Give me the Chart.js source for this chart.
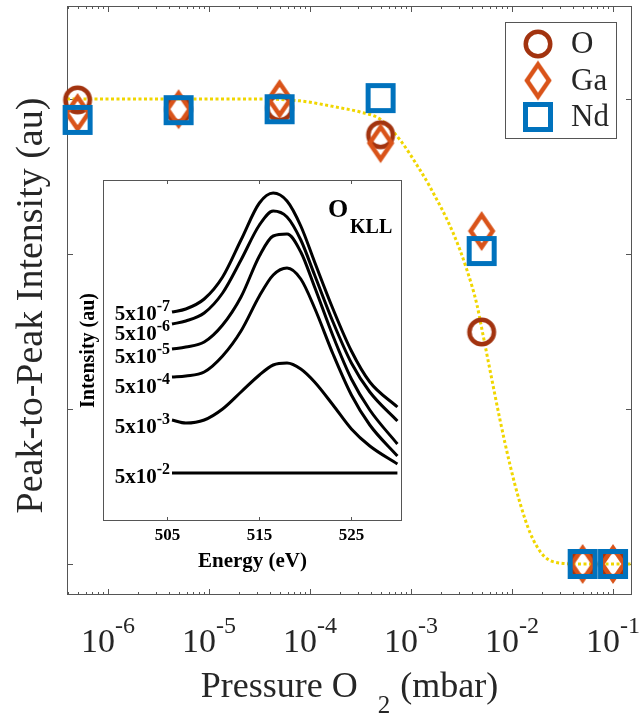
<!DOCTYPE html>
<html>
<head>
<meta charset="utf-8">
<script src="https://cdn.jsdelivr.net/npm/chart.js@4.4.0/dist/chart.umd.min.js"></script>
<style>
    body { margin: 0; background: #fff; }
    #wrap { position: relative; width: 641px; height: 717px; }
    #main { position: absolute; left: 0; top: 0; }
    #inset { position: absolute; left: 60px; top: 170px; }
</style>
</head>
<body>
<div id="wrap">
    <canvas id="main" width="641" height="717"></canvas>
    <canvas id="inset" width="350" height="420"></canvas>
</div>
<script>
// main plot: peak-to-peak intensity vs O2 pressure
const pressures = [5e-7, 5e-6, 5e-5, 5e-4, 5e-3, 5e-2, 1e-1];
const oValues = [0.998, 0.978, 0.981, 0.923, 0.499, 0, 0];
const gaValues = [0.970, 0.978, 1.000, 0.905, 0.716, 0, 0];
const ndValues = [0.955, 0.976, 0.978, 1.002, 0.673, 0, 0];

// dotted guide curve
const fitPressures = [3.93e-7, 2.61e-6, 2.55e-5, 7.96e-5, 1.98e-4, 3.13e-4, 4.93e-4, 7.78e-4, 1.23e-3, 1.54e-3,
    2.61e-3, 3.58e-3, 4.50e-3, 5.05e-3, 6.05e-3, 7.60e-3, 9.55e-3, 1.20e-2, 1.51e-2, 2.03e-2, 2.99e-2, 5.05e-2, 0.154];
const fitValues = [1.0, 1.0, 1.0, 0.996, 0.981, 0.972, 0.957, 0.912, 0.847, 0.811,
    0.712, 0.632, 0.557, 0.503, 0.417, 0.310, 0.213, 0.131, 0.067, 0.019, 0.002, 0, 0];

const xTickExps = [-6, -5, -4, -3, -2, -1];
const yTickValues = [0, 1 / 3, 2 / 3, 1];
const legendNames = ["O", "Ga", "Nd"];

// inset: O KLL spectra at several pressures
const energies = [505.5, 507, 509, 511, 513, 515, 516.5, 518, 519.5, 521, 523, 525, 527, 530];
const spec7 = [1.61, 1.64, 1.74, 1.96, 2.33, 2.70, 2.80, 2.72, 2.47, 2.11, 1.64, 1.22, 0.91, 0.66];
const spec6 = [1.49, 1.52, 1.60, 1.80, 2.13, 2.48, 2.62, 2.56, 2.33, 1.98, 1.51, 1.10, 0.81, 0.52];
const spec5 = [1.24, 1.26, 1.31, 1.48, 1.76, 2.17, 2.37, 2.39, 2.21, 1.86, 1.37, 0.94, 0.63, 0.29];
const spec4 = [0.96, 0.97, 1.01, 1.17, 1.42, 1.77, 1.98, 2.05, 1.94, 1.65, 1.19, 0.78, 0.48, 0.17];
const spec3 = [0.53, 0.50, 0.53, 0.64, 0.81, 0.98, 1.08, 1.10, 1.04, 0.91, 0.68, 0.44, 0.27, 0.09];
const spec2 = [0, 0, 0, 0, 0, 0, 0, 0, 0, 0, 0, 0, 0, 0];
const specLabelExps = ["-7", "-6", "-5", "-4", "-3", "-2"];
const energyTicks = [505, 515, 525];

const SERIF = "'Liberation Serif', 'Times New Roman', serif";
const colO = "#a2330f";
const colGa = "#d95319";
const colNd = "#0072bd";
const colFit = "#f0d600";
const axisCol = "#555555";
const textCol = "#262626";

// hollow marker images, matlab style
function makeMarker(kind, color) {
    const c = document.createElement("canvas");
    c.width = 34;
    c.height = kind === "diamond" ? 44 : 34;
    const g = c.getContext("2d");
    const cx = c.width / 2, cy = c.height / 2;
    g.strokeStyle = color;
    g.lineJoin = "miter";
    g.miterLimit = 10;
    g.beginPath();
    if (kind === "circle") {
        g.lineWidth = 4.5;
        g.arc(cx, cy, 12.25, 0, Math.PI * 2);
    } else if (kind === "square") {
        g.lineWidth = 5;
        g.rect(cx - 12.5, cy - 12.5, 25, 25);
    } else {
        g.lineWidth = 4.5;
        g.moveTo(cx, cy - 16);
        g.lineTo(cx + 11, cy);
        g.lineTo(cx, cy + 16);
        g.lineTo(cx - 11, cy);
        g.closePath();
    }
    g.stroke();
    return c;
}
const markO = makeMarker("circle", colO);
const markGa = makeMarker("diamond", colGa);
const markNd = makeMarker("square", colNd);

// base text with a raised small part
function drawPow(ctx, base, exp, x, baseline, bigPx, smallPx, rise, weight, align) {
    const big = weight + " " + bigPx + "px " + SERIF;
    const small = weight + " " + smallPx + "px " + SERIF;
    ctx.font = big;
    const w1 = ctx.measureText(base).width;
    ctx.font = small;
    const w2 = ctx.measureText(exp).width;
    let left = x;
    if (align === "center") left = x - (w1 + w2) / 2;
    if (align === "right") left = x - w1 - w2;
    ctx.textAlign = "left";
    ctx.textBaseline = "alphabetic";
    ctx.font = big;
    ctx.fillText(base, left, baseline);
    ctx.font = small;
    ctx.fillText(exp, left + w1, baseline - rise);
}

const mainAxes = {
    id: "mainAxes",
    beforeDatasetsDraw(chart) {
        const { ctx, chartArea: a, scales: { x, y } } = chart;
        ctx.save();
        ctx.strokeStyle = axisCol;
        ctx.lineWidth = 1;
        ctx.strokeRect(a.left + 0.5, a.top + 0.5, a.right - a.left - 1, a.bottom - a.top - 1);
        ctx.beginPath();
        // log ticks, major + minor, inward on top and bottom
        for (let e = xTickExps[0] - 1; e <= xTickExps[xTickExps.length - 1]; e++) {
            for (let m = 1; m < 10; m++) {
                const v = m * Math.pow(10, e);
                if (v < x.min || v > x.max) continue;
                const px = Math.round(x.getPixelForValue(v)) + 0.5;
                const len = m === 1 ? 6 : 3;
                ctx.moveTo(px, a.bottom); ctx.lineTo(px, a.bottom - len);
                ctx.moveTo(px, a.top); ctx.lineTo(px, a.top + len);
            }
        }
        yTickValues.forEach(v => {
            const py = Math.round(y.getPixelForValue(v)) + 0.5;
            ctx.moveTo(a.left, py); ctx.lineTo(a.left + 6, py);
            ctx.moveTo(a.right, py); ctx.lineTo(a.right - 6, py);
        });
        ctx.stroke();
        ctx.restore();
    },
    afterDraw(chart) {
        const { ctx, chartArea: a, scales: { x } } = chart;
        ctx.save();
        ctx.fillStyle = textCol;
        xTickExps.forEach(e => {
            const px = x.getPixelForValue(Math.pow(10, e));
            drawPow(ctx, "10", String(e), px, 652, 34, 24, 19, "normal", "center");
        });

        // x title with subscript 2
        ctx.font = "36px " + SERIF;
        const t1 = "Pressure O", t3 = "(mbar)";
        const w1 = ctx.measureText(t1).width, w3 = ctx.measureText(t3).width;
        ctx.font = "25px " + SERIF;
        const w2 = ctx.measureText("2").width;
        const total = w1 + 20 + w2 + 10 + w3;
        let left = (a.left + a.right) / 2 - total / 2;
        ctx.textAlign = "left";
        ctx.font = "36px " + SERIF;
        ctx.fillText(t1, left, 697);
        ctx.font = "25px " + SERIF;
        ctx.fillText("2", left + w1 + 20, 713);
        ctx.font = "36px " + SERIF;
        ctx.fillText(t3, left + w1 + 20 + w2 + 10, 697);

        // y title
        ctx.translate(42, (a.top + a.bottom) / 2 + 5);
        ctx.rotate(-Math.PI / 2);
        ctx.textAlign = "center";
        ctx.font = "38px " + SERIF;
        ctx.fillText("Peak-to-Peak Intensity (au)", 0, 0);
        ctx.restore();

        // legend box
        ctx.save();
        ctx.fillStyle = "#fff";
        ctx.fillRect(505, 22, 112, 117);
        ctx.strokeStyle = axisCol;
        ctx.lineWidth = 1;
        ctx.strokeRect(505.5, 22.5, 111, 116);
        const marks = [markO, markGa, markNd];
        const rows = [44, 80.5, 117];
        ctx.fillStyle = textCol;
        ctx.font = "31px " + SERIF;
        ctx.textAlign = "left";
        ctx.textBaseline = "middle";
        legendNames.forEach((name, i) => {
            const m = marks[i];
            ctx.drawImage(m, 538 - m.width / 2, rows[i] - m.height / 2);
            ctx.fillText(name, 571, rows[i] + 1);
        });
        ctx.restore();
    }
};

function pts(xs, ys) {
    return xs.map((v, i) => ({ x: v, y: ys[i] }));
}

new Chart(document.getElementById("main"), {
    type: "scatter",
    data: {
        datasets: [
            {
                label: "fit",
                data: pts(fitPressures, fitValues),
                showLine: true,
                borderColor: colFit,
                borderWidth: 3,
                borderDash: [3, 2.5],
                pointRadius: 0,
                cubicInterpolationMode: "monotone",
                order: 4,
            },
            { label: "O", data: pts(pressures, oValues), pointStyle: markO, pointRadius: 10, clip: false, order: 3 },
            { label: "Ga", data: pts(pressures, gaValues), pointStyle: markGa, pointRadius: 10, clip: false, order: 2 },
            { label: "Nd", data: pts(pressures, ndValues), pointStyle: markNd, pointRadius: 10, clip: false, order: 1 },
        ],
    },
    options: {
        responsive: false,
        animation: false,
        events: [],
        layout: { autoPadding: false, padding: { left: 67, top: 6, right: 9, bottom: 122 } },
        scales: {
            x: { type: "logarithmic", min: 3.93e-7, max: 0.154, display: false },
            y: { type: "linear", min: -0.0667, max: 1.2, display: false },
        },
        plugins: { legend: { display: false }, tooltip: { enabled: false } },
    },
    plugins: [mainAxes],
});

// inset chart
const insetAxes = {
    id: "insetAxes",
    beforeDatasetsDraw(chart) {
        const { ctx, chartArea: a, scales: { x } } = chart;
        ctx.save();
        ctx.fillStyle = "#fff";
        ctx.fillRect(a.left, a.top, a.right - a.left, a.bottom - a.top);
        ctx.strokeStyle = axisCol;
        ctx.lineWidth = 1;
        ctx.strokeRect(a.left + 0.5, a.top + 0.5, a.right - a.left - 1, a.bottom - a.top - 1);
        ctx.beginPath();
        energyTicks.forEach(v => {
            const px = Math.round(x.getPixelForValue(v)) + 0.5;
            ctx.moveTo(px, a.bottom); ctx.lineTo(px, a.bottom - 4);
            ctx.moveTo(px, a.top); ctx.lineTo(px, a.top + 4);
        });
        ctx.stroke();
        ctx.restore();
    },
    afterDraw(chart) {
        const { ctx, chartArea: a, scales: { x, y } } = chart;
        ctx.save();
        ctx.fillStyle = "#000";
        ctx.textAlign = "center";
        ctx.font = "bold 17px " + SERIF;
        energyTicks.forEach(v => {
            ctx.fillText(String(v), x.getPixelForValue(v), 540 - 170);
        });
        ctx.font = "bold 21px " + SERIF;
        ctx.fillText("Energy (eV)", (a.left + a.right) / 2, 567 - 170);

        // spectrum labels, right end at each curve start, nudged down so they stack
        const nudge = [8, 16, 14, 16, 13, 10];
        chart.data.datasets.forEach((ds, i) => {
            const px = x.getPixelForValue(ds.data[0].x) - 2;
            const py = y.getPixelForValue(ds.data[0].y) + nudge[i];
            ctx.font = "bold 21px " + SERIF;
            const w1 = ctx.measureText("5x10").width;
            ctx.font = "bold 16px " + SERIF;
            const w2 = ctx.measureText(specLabelExps[i]).width;
            ctx.textAlign = "left";
            ctx.font = "bold 21px " + SERIF;
            ctx.fillText("5x10", px - w1 - w2, py);
            ctx.font = "bold 16px " + SERIF;
            ctx.fillText(specLabelExps[i], px - w2, py - 9);
        });

        // O KLL
        ctx.textAlign = "left";
        ctx.font = "bold 26px " + SERIF;
        ctx.fillText("O", 328 - 60, 217 - 170);
        ctx.font = "bold 20px " + SERIF;
        ctx.fillText("KLL", 350 - 60, 233 - 170);

        // y title
        ctx.translate(94 - 60, (a.top + a.bottom) / 2);
        ctx.rotate(-Math.PI / 2);
        ctx.textAlign = "center";
        ctx.font = "bold 20px " + SERIF;
        ctx.fillText("Intensity (au)", 0, 0);
        ctx.restore();
    },
};

const specs = [spec7, spec6, spec5, spec4, spec3, spec2];
new Chart(document.getElementById("inset"), {
    type: "line",
    data: {
        datasets: specs.map((s, i) => ({
            label: "5x10" + specLabelExps[i],
            data: pts(energies, s),
            borderColor: "#000",
            borderWidth: 3,
            pointRadius: 0,
            cubicInterpolationMode: "monotone",
        })),
    },
    options: {
        responsive: false,
        animation: false,
        events: [],
        layout: { autoPadding: false, padding: { left: 43, top: 10, right: 8, bottom: 69 } },
        scales: {
            x: { type: "linear", min: 498, max: 530.5, display: false },
            y: { type: "linear", min: -0.48, max: 2.93, display: false },
        },
        plugins: { legend: { display: false }, tooltip: { enabled: false } },
    },
    plugins: [insetAxes],
});
</script>
</body>
</html>
